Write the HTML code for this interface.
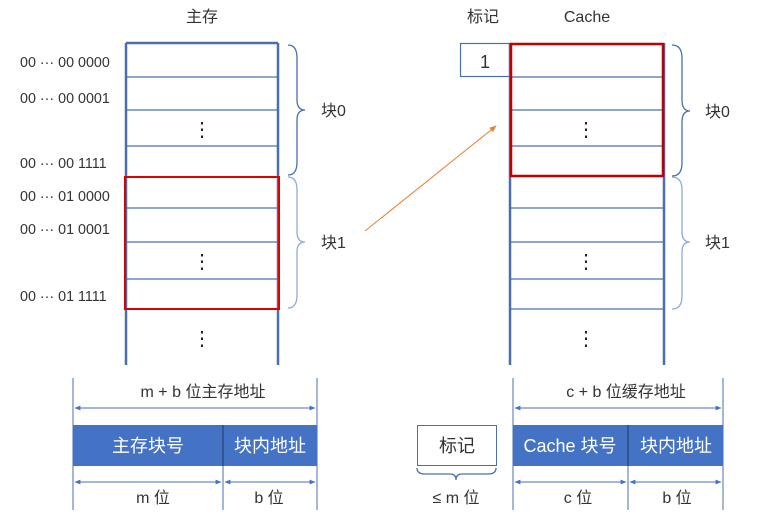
<!DOCTYPE html>
<html><head><meta charset="utf-8"><style>
html,body{margin:0;padding:0;background:#fff;}
svg{display:block;font-family:"Liberation Sans","Noto Sans CJK SC",sans-serif;}
</style></head><body>
<svg width="765" height="522" viewBox="0 0 765 522" xmlns="http://www.w3.org/2000/svg">
<defs>
<marker id="ab" viewBox="0 0 10 10" refX="9" refY="5" markerWidth="6" markerHeight="6" orient="auto-start-reverse"><path d="M0,1 L10,5 L0,9 z" fill="#4472c4"/></marker>
<marker id="ao" viewBox="0 0 10 10" refX="9" refY="5" markerWidth="7" markerHeight="7" orient="auto"><path d="M0,1 L10,5 L0,9 z" fill="#ed7d31"/></marker>
</defs>
<g font-size="16" fill="#333" text-anchor="middle">
<text x="202" y="22">主存</text>
<text x="483" y="22">标记</text>
<text x="587" y="22">Cache</text>
</g>
<g stroke="#4a6fae" fill="none">
<line x1="126" y1="43" x2="126" y2="365" stroke-width="2.5"/>
<line x1="278" y1="43" x2="278" y2="365" stroke-width="2.5"/>
<line x1="126" y1="43" x2="278" y2="43" stroke-width="2.5"/>
<g stroke-width="1.2"><line x1="126" y1="77" x2="278" y2="77"/><line x1="126" y1="110" x2="278" y2="110"/><line x1="126" y1="146" x2="278" y2="146"/><line x1="126" y1="208" x2="278" y2="208"/><line x1="126" y1="242" x2="278" y2="242"/><line x1="126" y1="279" x2="278" y2="279"/></g>
</g>
<rect x="125" y="177" width="154" height="132" fill="none" stroke="#e00000" stroke-width="2"/>
<g stroke="#4a6fae" fill="none">
<line x1="510" y1="43" x2="510" y2="365" stroke-width="2.5"/>
<line x1="664" y1="43" x2="664" y2="365" stroke-width="2.5"/>
<g stroke-width="1.2"><line x1="510" y1="77" x2="664" y2="77"/><line x1="510" y1="110" x2="664" y2="110"/><line x1="510" y1="146" x2="664" y2="146"/><line x1="510" y1="208" x2="664" y2="208"/><line x1="510" y1="242" x2="664" y2="242"/><line x1="510" y1="279" x2="664" y2="279"/><line x1="510" y1="309" x2="664" y2="309"/></g>
<rect x="460.5" y="43.5" width="50" height="33" stroke-width="1.2"/>
</g>
<rect x="511" y="44" width="152" height="132" fill="none" stroke="#c00000" stroke-width="2.5"/>
<text x="485" y="68" font-size="18" text-anchor="middle" fill="#333">1</text>
<g font-size="20" fill="#222" text-anchor="middle">
<text x="202" y="136">⋮</text><text x="202" y="268">⋮</text><text x="202" y="345">⋮</text>
<text x="586" y="136">⋮</text><text x="586" y="268">⋮</text><text x="586" y="345">⋮</text>
</g>
<g font-size="14.3" fill="#333">
<text x="20" y="67">00 ··· 00 0000</text>
<text x="20" y="103">00 ··· 00 0001</text>
<text x="20" y="168">00 ··· 00 1111</text>
<text x="20" y="201">00 ··· 01 0000</text>
<text x="20" y="234">00 ··· 01 0001</text>
<text x="20" y="301">00 ··· 01 1111</text>
</g>
<g fill="none" stroke-width="1.3">
<path d="M288,45 Q297,45 297,58 L297,100 Q297,110 305,110 Q297,110 297,120 L297,162 Q297,175 288,175" stroke="#4a6fae"/>
<path d="M288,177 Q297,177 297,190 L297,232 Q297,242 305,242 Q297,242 297,252 L297,295 Q297,308 288,308" stroke="#8faadc"/>
<path d="M672,45 Q682,45 682,58 L682,100 Q682,111 690,111 Q682,111 682,122 L682,163 Q682,176 672,176" stroke="#4a6fae"/>
<path d="M672,177 Q682,177 682,190 L682,232 Q682,242 690,242 Q682,242 682,252 L682,296 Q682,309 672,309" stroke="#8faadc"/>
<path d="M417,468 Q417,474 425,474 L450,474 Q456,474 456,480 Q456,474 462,474 L488,474 Q496,474 496,468" stroke="#4a6fae"/>
</g>
<g font-size="16" fill="#333">
<text x="321" y="116">块0</text><text x="321" y="248">块1</text>
<text x="705" y="117">块0</text><text x="705" y="248">块1</text>
</g>
<line x1="365" y1="231" x2="496" y2="126" stroke="#ed7d31" stroke-width="1" marker-end="url(#ao)"/>
<g stroke="#4a6fae" stroke-width="1">
<line x1="73" y1="378" x2="73" y2="510"/><line x1="317" y1="378" x2="317" y2="510"/>
<line x1="513" y1="378" x2="513" y2="510"/><line x1="723" y1="378" x2="723" y2="510"/>
<line x1="223" y1="465" x2="223" y2="510"/><line x1="628" y1="465" x2="628" y2="510"/>
<line x1="75" y1="408" x2="315" y2="408" marker-start="url(#ab)" marker-end="url(#ab)"/>
<line x1="75" y1="482" x2="221" y2="482" marker-start="url(#ab)" marker-end="url(#ab)"/>
<line x1="225" y1="482" x2="315" y2="482" marker-start="url(#ab)" marker-end="url(#ab)"/>
<line x1="515" y1="408" x2="721" y2="408" marker-start="url(#ab)" marker-end="url(#ab)"/>
<line x1="515" y1="482" x2="626" y2="482" marker-start="url(#ab)" marker-end="url(#ab)"/>
<line x1="630" y1="482" x2="721" y2="482" marker-start="url(#ab)" marker-end="url(#ab)"/>
</g>
<rect x="73" y="425" width="244" height="41" fill="#4472c4"/>
<rect x="513" y="425" width="210" height="41" fill="#4472c4"/>
<line x1="223" y1="425" x2="223" y2="466" stroke="#1f3864" stroke-width="1"/>
<line x1="628" y1="425" x2="628" y2="466" stroke="#1f3864" stroke-width="1"/>
<rect x="417.5" y="425.5" width="79" height="40" fill="#fff" stroke="#4a6fae" stroke-width="1"/>
<g font-size="18" text-anchor="middle">
<text x="148" y="452" fill="#fff">主存块号</text>
<text x="270" y="452" fill="#fff">块内地址</text>
<text x="570" y="452" fill="#fff">Cache 块号</text>
<text x="676" y="452" fill="#fff">块内地址</text>
<text x="457" y="452" fill="#333">标记</text>
</g>
<g font-size="16" text-anchor="middle" fill="#333">
<text x="203" y="397">m + b 位主存地址</text>
<text x="626" y="397">c + b 位缓存地址</text>
<text x="153" y="503">m 位</text>
<text x="269" y="503">b 位</text>
<text x="578" y="503">c 位</text>
<text x="677" y="503">b 位</text>
<text x="456" y="503">≤ m 位</text>
</g>
</svg>
</body></html>
